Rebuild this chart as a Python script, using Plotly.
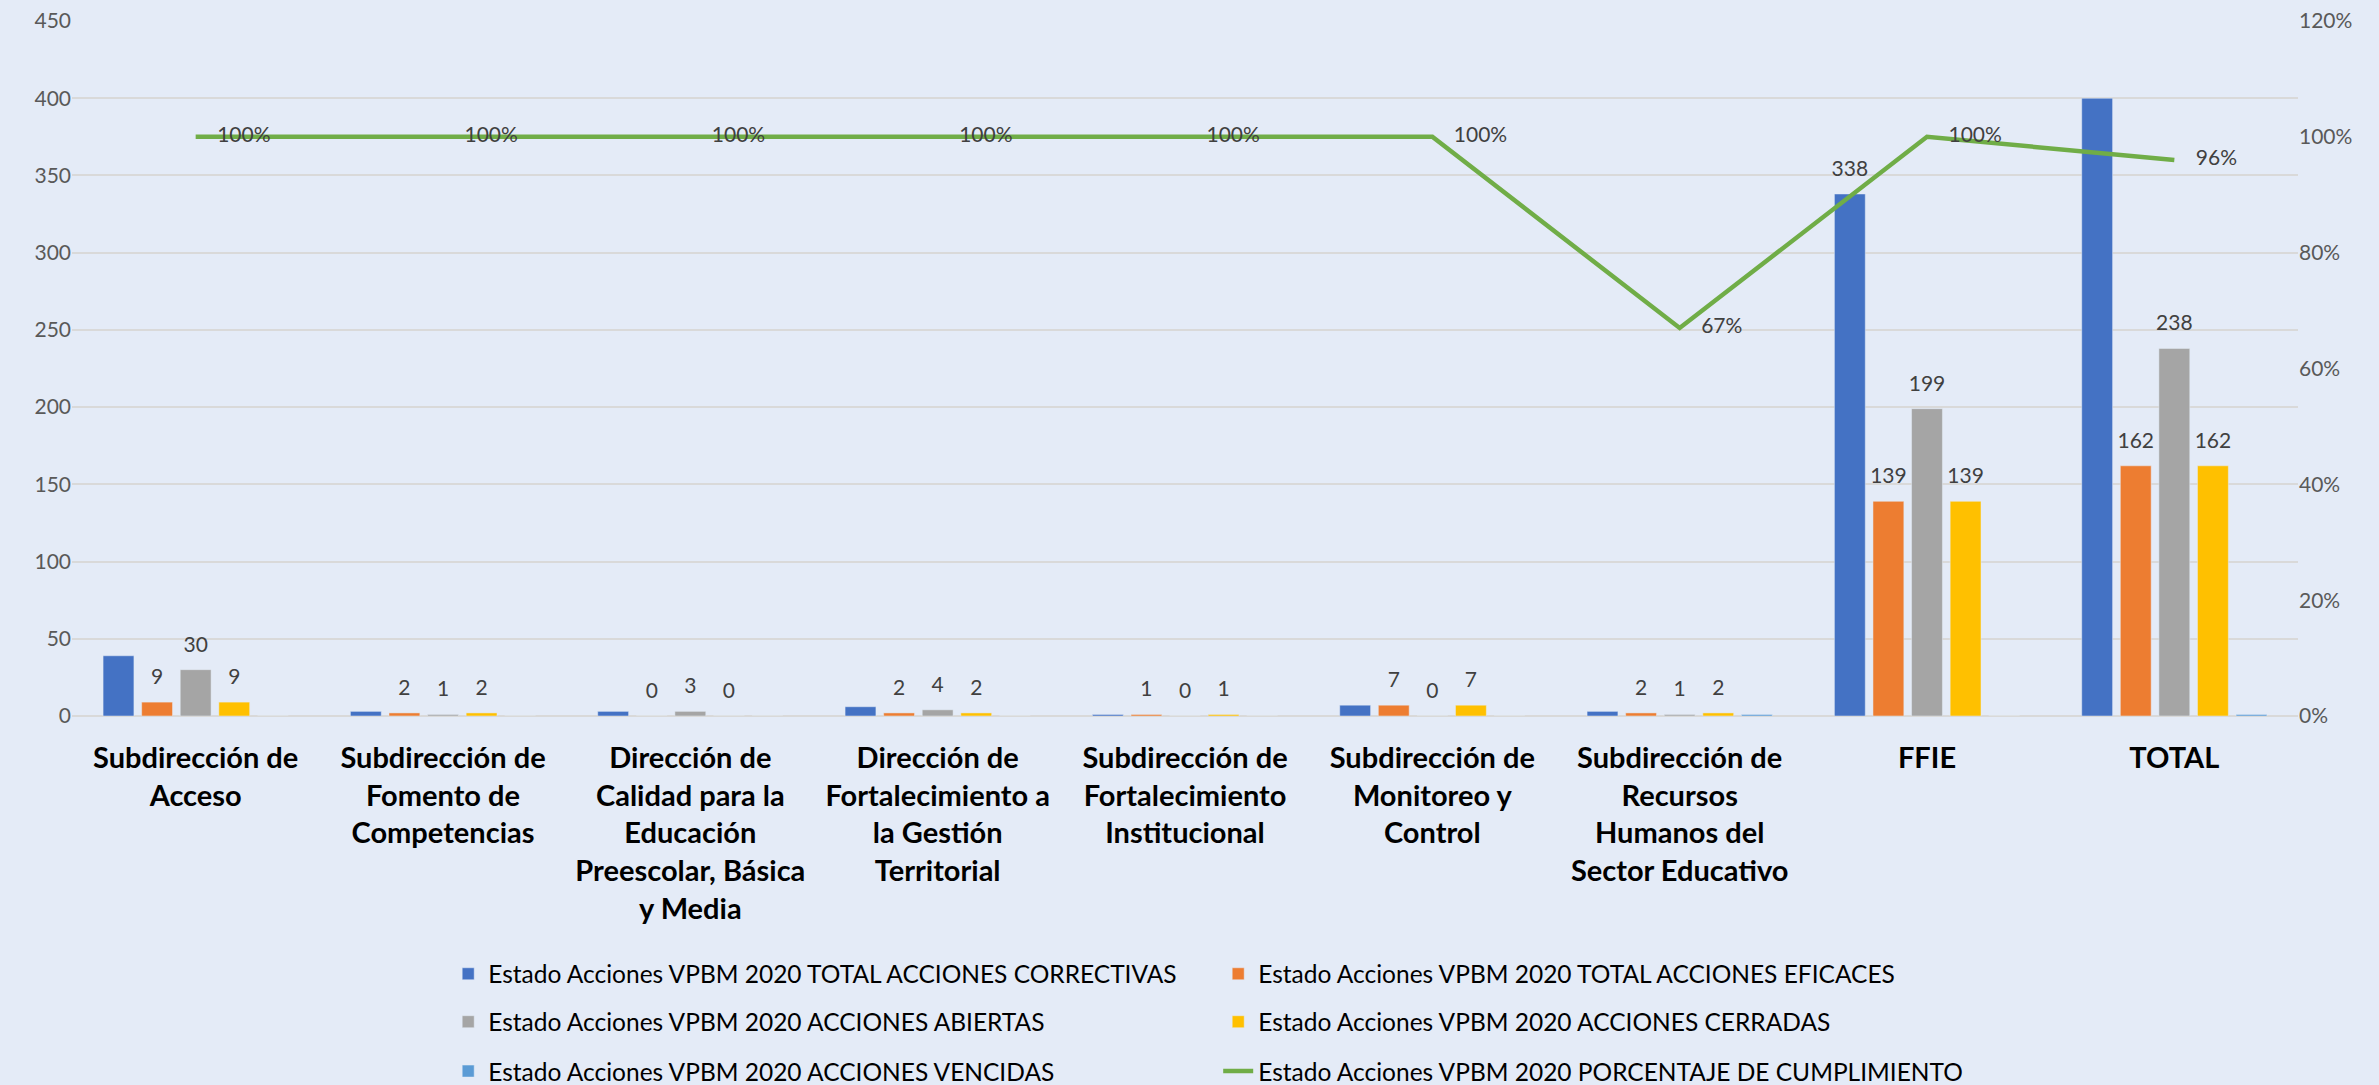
import plotly.graph_objects as go

# Datos
categorias = [
    "Subdirección de<br>Acceso",
    "Subdirección de<br>Fomento de<br>Competencias",
    "Dirección de<br>Calidad para la<br>Educación<br>Preescolar, Básica<br>y Media",
    "Dirección de<br>Fortalecimiento a<br>la Gestión<br>Territorial",
    "Subdirección de<br>Fortalecimiento<br>Institucional",
    "Subdirección de<br>Monitoreo y<br>Control",
    "Subdirección de<br>Recursos<br>Humanos del<br>Sector Educativo",
    "FFIE",
    "TOTAL",
]
correctivas = [39, 3, 3, 6, 1, 7, 3, 338, 400]
eficaces = [9, 2, 0, 2, 1, 7, 2, 139, 162]
abiertas = [30, 1, 3, 4, 0, 0, 1, 199, 238]
cerradas = [9, 2, 0, 2, 1, 7, 2, 139, 162]
vencidas = [0, 0, 0, 0, 0, 0, 1, 0, 1]
cumplimiento = [1.0, 1.0, 1.0, 1.0, 1.0, 1.0, 0.67, 1.0, 0.96]

# solo la barra FFIE lleva etiqueta en la serie azul
etiquetas_correctivas = ["", "", "", "", "", "", "", "338", ""]

prefijo = "Estado Acciones VPBM 2020 "
label_font = dict(family="Lato", size=21, color="#404040")


def etiqueta(t):
    # una linea vacia pequeña debajo separa la etiqueta de la barra como en Excel
    if t == "":
        return ""
    return "<span style='font-size:21px'>" + t + "</span><br>\u00a0"


fig = go.Figure()

series = [
    ("TOTAL ACCIONES CORRECTIVAS", correctivas, "#4472C4", etiquetas_correctivas, "legend"),
    ("TOTAL ACCIONES EFICACES", eficaces, "#ED7D31", [str(v) for v in eficaces], "legend"),
    ("ACCIONES ABIERTAS", abiertas, "#A5A5A5", [str(v) for v in abiertas], "legend2"),
    ("ACCIONES CERRADAS", cerradas, "#FFC000", [str(v) for v in cerradas], "legend2"),
    ("ACCIONES VENCIDAS", vencidas, "#5B9BD5", ["" for v in vencidas], "legend3"),
]
for nombre, valores, color, textos, leyenda in series:
    fig.add_trace(go.Bar(
        x=categorias,
        y=valores,
        name=prefijo + nombre,
        marker_color=color,
        text=[etiqueta(t) for t in textos],
        textposition="outside",
        textfont=dict(family="Lato", size=10, color="#404040"),
        constraintext="none",
        cliponaxis=False,
        legend=leyenda,
    ))

# etiqueta desplazada a la derecha del punto, como en Excel
fig.add_trace(go.Scatter(
    x=categorias,
    y=cumplimiento,
    name=prefijo + "PORCENTAJE DE CUMPLIMIENTO",
    mode="lines+text",
    line=dict(color="#70AD47", width=4.5),
    text=["\u00a0\u00a0\u00a0\u00a0" + f"{v:.0%}" for v in cumplimiento],
    textposition="middle right",
    textfont=label_font,
    yaxis="y2",
    cliponaxis=False,
    legend="legend3",
))

bg = "#E4EBF7"
legend_base = dict(
    orientation="h",
    x=0.169,
    xanchor="left",
    yanchor="middle",
    entrywidth=725,
    entrywidthmode="pixels",
    font=dict(family="Lato", size=24.5, color="#000000"),
    bgcolor="rgba(0,0,0,0)",
)

fig.update_layout(
    width=2379,
    height=1085,
    margin=dict(l=72, r=81, t=21, b=369, autoexpand=False),
    paper_bgcolor=bg,
    plot_bgcolor=bg,
    font=dict(family="Lato", color="#595959"),
    barmode="group",
    bargap=0.22,
    bargroupgap=0.2,
    legend=dict(legend_base, y=-0.371),
    legend2=dict(legend_base, y=-0.440),
    legend3=dict(legend_base, y=-0.511),
    xaxis=dict(
        tickfont=dict(family="Lato", size=29, color="#000000", weight="bold"),
        ticklabelstandoff=22,
        showgrid=False,
        showline=False,
        ticks="",
    ),
    yaxis=dict(
        range=[0, 450],
        dtick=50,
        gridcolor="#D9D9D9",
        gridwidth=2,
        zeroline=True,
        zerolinecolor="#D9D9D9",
        zerolinewidth=2,
        tickfont=dict(family="Lato", size=21, color="#595959"),
    ),
    yaxis2=dict(
        range=[0, 1.2],
        dtick=0.2,
        tickformat=".0%",
        overlaying="y",
        side="right",
        showgrid=False,
        zeroline=False,
        tickfont=dict(family="Lato", size=21, color="#595959"),
    ),
)

fig.write_html(
    "out.html",
    config={"displayModeBar": False},
    post_script="document.body.style.margin='0';",
)
